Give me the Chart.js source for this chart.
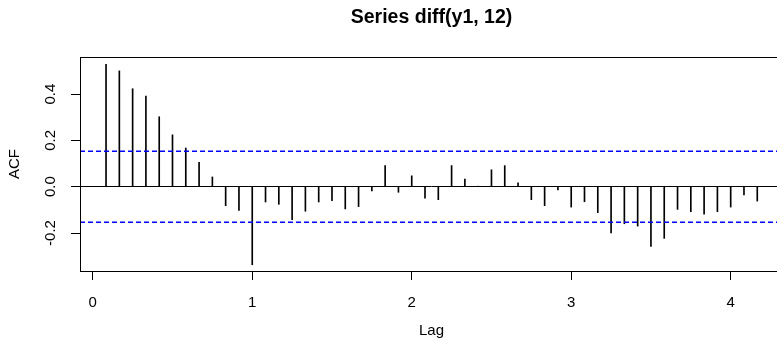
<!DOCTYPE html>
<html><head><meta charset="utf-8">
<script src="https://cdn.jsdelivr.net/npm/chart.js@4"></script>
<style>html,body{margin:0;padding:0;background:#fff;overflow:hidden}#wrap{width:800px;height:349px}</style>
</head><body><div id="wrap"><canvas id="c" width="800" height="349"></canvas></div>
<script>
// Lag (years) of each autocorrelation bar
const lags = [0.0833, 0.1667, 0.25, 0.3333, 0.4167, 0.5, 0.5833, 0.6667, 0.75, 0.8333,
  0.9167, 1, 1.0833, 1.1667, 1.25, 1.3333, 1.4167, 1.5, 1.5833, 1.6667,
  1.75, 1.8333, 1.9167, 2, 2.0833, 2.1667, 2.25, 2.3333, 2.4167, 2.5,
  2.5833, 2.6667, 2.75, 2.8333, 2.9167, 3, 3.0833, 3.1667, 3.25, 3.3333,
  3.4167, 3.5, 3.5833, 3.6667, 3.75, 3.8333, 3.9167, 4, 4.0833, 4.1667];
// ACF values
const acf = [0.528, 0.500, 0.423, 0.391, 0.302, 0.224, 0.167, 0.105, 0.042, -0.082,
  -0.102, -0.337, -0.066, -0.076, -0.142, -0.106, -0.066, -0.060, -0.096, -0.086,
  -0.018, 0.091, -0.024, 0.047, -0.049, -0.056, 0.091, 0.033, 0.002, 0.073,
  0.091, 0.017, -0.056, -0.082, -0.014, -0.088, -0.065, -0.112, -0.200, -0.160,
  -0.170, -0.258, -0.223, -0.098, -0.108, -0.119, -0.108, -0.088, -0.036, -0.062];
// Confidence bound (±)
const ciBound = [0.153];
// Tick labels
const xTicks = [0, 1, 2, 3, 4];
const yTicks = [-0.2, 0.0, 0.2, 0.4];
const xRange = [-0.08, 4.328];
const yRange = [-0.364, 0.56];

const family = "'Liberation Sans', Arial, Helvetica, sans-serif";

const frame = {
  id: 'frame',
  afterDatasetsDraw(chart) {
    const {ctx, chartArea: a} = chart;
    ctx.save();
    ctx.strokeStyle = '#000';
    ctx.lineWidth = 1;
    ctx.strokeRect(Math.round(a.left) + 0.5, Math.round(a.top) + 0.5,
      Math.round(a.right - a.left), Math.round(a.bottom - a.top));
    ctx.restore();
  }
};

const ciLine = (sign) => ({
  type: 'line',
  data: [{x: xRange[0], y: sign * ciBound[0]}, {x: xRange[1], y: sign * ciBound[0]}],
  borderColor: '#0000ff', borderWidth: 1.5, borderDash: [5, 3],
  pointRadius: 0, fill: false, tension: 0
});

new Chart(document.getElementById('c'), {
  type: 'bar',
  data: {
    datasets: [
      ciLine(1),
      ciLine(-1),
      {
        type: 'bar',
        data: lags.map((x, i) => ({x: x, y: acf[i]})),
        backgroundColor: '#000', borderWidth: 0, barThickness: 1
      }
    ]
  },
  options: {
    responsive: false, animation: false, devicePixelRatio: 1,
    layout: {padding: {left: 0, right: 17, top: 0, bottom: 0}},
    plugins: {
      legend: {display: false},
      tooltip: {enabled: false},
      title: {
        display: true, text: 'Series diff(y1, 12)', fullSize: false, color: '#000',
        font: {family: family, size: 19.5, weight: 'bold'},
        padding: {top: 6, bottom: 27.6}
      }
    },
    scales: {
      x: {
        type: 'linear', min: xRange[0], max: xRange[1], offset: false,
        afterBuildTicks: s => { s.ticks = xTicks.map(v => ({value: v})); },
        afterFit: s => { s.height = 78; },
        grid: {drawOnChartArea: false, tickLength: 9, color: '#000', tickColor: '#000', offset: false},
        border: {display: false},
        ticks: {color: '#000', font: {family: family, size: 15}, padding: 14, maxRotation: 0,
          autoSkip: false, callback: v => String(v)},
        title: {display: true, text: 'Lag', color: '#000', font: {family: family, size: 15},
          padding: {top: 0, bottom: 9}}
      },
      y: {
        min: yRange[0], max: yRange[1],
        afterBuildTicks: s => { s.ticks = yTicks.map(v => ({value: v})); },
        afterFit: s => { s.width = 80; },
        grid: {
          color: c => (c.tick && c.tick.value === 0) ? '#000' : 'rgba(0,0,0,0)',
          tickColor: '#000', tickLength: 9, drawTicks: true
        },
        border: {display: false},
        ticks: {color: '#000', font: {family: family, size: 15}, padding: 7,
          minRotation: 90, maxRotation: 90, crossAlign: 'center',
          callback: v => v.toFixed(1)},
        title: {display: true, text: 'ACF', color: '#000', font: {family: family, size: 15},
          padding: {top: 6, bottom: 0}}
      }
    }
  },
  plugins: [frame]
});
</script>
</body></html>
